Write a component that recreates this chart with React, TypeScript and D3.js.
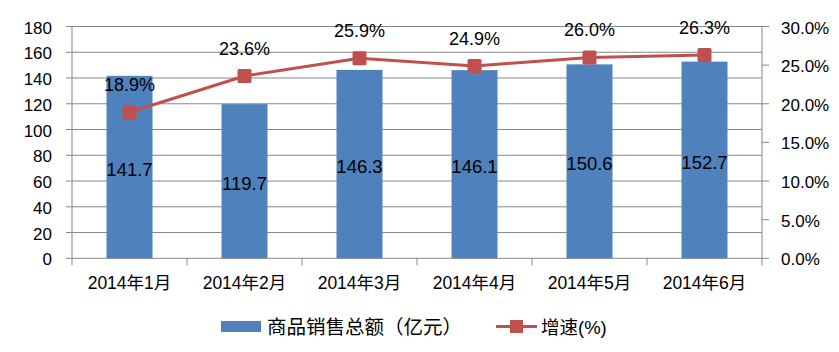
import { useEffect, useRef } from "react";
import * as d3 from "d3";

const months = ["2014年1月", "2014年2月", "2014年3月", "2014年4月", "2014年5月", "2014年6月"];
const sales = [141.7, 119.7, 146.3, 146.1, 150.6, 152.7];
const growth = [18.9, 23.6, 25.9, 24.9, 26.0, 26.3];
const leftTicks = [0, 20, 40, 60, 80, 100, 120, 140, 160, 180];
const rightTicks = [0, 5, 10, 15, 20, 25, 30];

const BLUE = "#4F81BD";
const RED = "#C0504D";
const GRID = "#878787";
const FONT = "'Liberation Sans', Arial, 'Noto Sans CJK SC', sans-serif";

const App = () => {
  const svgRef = useRef<SVGSVGElement>(null);

  useEffect(() => {
    const width = 839,
      height = 352;
    const margin = { top: 26.5, right: 77, bottom: 93.7, left: 72 };
    const innerW = width - margin.left - margin.right;
    const innerH = height - margin.top - margin.bottom;

    const root = d3.select(svgRef.current);
    root.selectAll("*").remove();
    root.attr("width", width).attr("height", height);
    root.append("rect").attr("width", width).attr("height", height).attr("fill", "#fff");

    const g = root.append("g").attr("transform", `translate(${margin.left},${margin.top})`);

    const x = d3.scaleBand().domain(months).range([0, innerW]).paddingInner(0.6).paddingOuter(0.3);
    const xb = d3.scaleBand().domain(months).range([0, innerW]);
    const yL = d3.scaleLinear().domain([0, 180]).range([innerH, 0]);
    const yR = d3.scaleLinear().domain([0, 30]).range([innerH, 0]);

    const label = (
      sel: d3.Selection<SVGGElement, unknown, null, undefined>,
      tx: number,
      ty: number,
      str: string,
      anchor: string,
      size = 17
    ) =>
      sel
        .append("text")
        .attr("x", tx)
        .attr("y", ty)
        .attr("text-anchor", anchor)
        .attr("font-family", FONT)
        .attr("font-size", size)
        .attr("fill", "#000")
        .text(str);

    // gridlines + left ticks
    leftTicks.forEach((t) => {
      g.append("line")
        .attr("x1", -6)
        .attr("x2", innerW)
        .attr("y1", yL(t))
        .attr("y2", yL(t))
        .attr("stroke", GRID)
        .attr("stroke-width", 1);
      label(g, -20, yL(t) + 7, String(t), "end");
    });

    // right axis ticks
    rightTicks.forEach((t) => {
      g.append("line")
        .attr("x1", innerW)
        .attr("x2", innerW + 7)
        .attr("y1", yR(t))
        .attr("y2", yR(t))
        .attr("stroke", GRID);
      label(g, innerW + 19, yR(t) + 7, t.toFixed(1) + "%", "start");
    });

    // axis lines
    g.append("line").attr("x1", 0).attr("x2", 0).attr("y1", 0).attr("y2", innerH).attr("stroke", GRID);
    g.append("line").attr("x1", innerW).attr("x2", innerW).attr("y1", 0).attr("y2", innerH).attr("stroke", GRID);

    // bottom category ticks
    months.forEach((m, i) => {
      const bx = xb(m)!;
      g.append("line")
        .attr("x1", bx)
        .attr("x2", bx)
        .attr("y1", innerH)
        .attr("y2", innerH + 7)
        .attr("stroke", GRID);
      if (i === months.length - 1) {
        g.append("line")
          .attr("x1", innerW)
          .attr("x2", innerW)
          .attr("y1", innerH)
          .attr("y2", innerH + 7)
          .attr("stroke", GRID);
      }
      label(g, bx + xb.bandwidth() / 2, innerH + 30.5, m, "middle", 17.5);
    });

    // bars
    g.selectAll("rect.bar")
      .data(sales)
      .enter()
      .append("rect")
      .attr("class", "bar")
      .attr("x", (_, i) => x(months[i])!)
      .attr("width", x.bandwidth())
      .attr("y", (d) => yL(d))
      .attr("height", (d) => innerH - yL(d))
      .attr("fill", BLUE);

    // bar labels in the middle of each bar
    sales.forEach((d, i) => {
      const cx = xb(months[i])! + xb.bandwidth() / 2;
      label(g, cx, (yL(d) + innerH) / 2 + 9, d.toFixed(1), "middle", 18.5);
    });

    // growth line
    const line = d3
      .line<number>()
      .x((_, i) => xb(months[i])! + xb.bandwidth() / 2)
      .y((d) => yR(d));
    g.append("path")
      .datum(growth)
      .attr("d", line)
      .attr("fill", "none")
      .attr("stroke", RED)
      .attr("stroke-width", 3);

    growth.forEach((d, i) => {
      const cx = xb(months[i])! + xb.bandwidth() / 2;
      g.append("rect")
        .attr("x", cx - 7)
        .attr("y", yR(d) - 7)
        .attr("width", 14)
        .attr("height", 14)
        .attr("rx", 1.5)
        .attr("fill", RED);
      label(g, cx, yR(d) - 21, d.toFixed(1) + "%", "middle", 18);
    });

    // legend
    const lg = root.append("g");
    lg.append("rect").attr("x", 221).attr("y", 321).attr("width", 40).attr("height", 11).attr("fill", BLUE);
    label(lg, 267, 333.5, "商品销售总额（亿元）", "start", 19.5);
    lg.append("line")
      .attr("x1", 496)
      .attr("x2", 537)
      .attr("y1", 326.5)
      .attr("y2", 326.5)
      .attr("stroke", RED)
      .attr("stroke-width", 3);
    lg.append("rect").attr("x", 510).attr("y", 320).attr("width", 13).attr("height", 13).attr("fill", RED);
    label(lg, 541, 333.5, "增速(%)", "start", 18.5);
  }, []);

  return (
    <div style={{ position: "absolute", left: 0, top: 0 }}>
      <svg ref={svgRef} width="839" height="352" style={{ display: "block" }}></svg>
    </div>
  );
};

export default App;
